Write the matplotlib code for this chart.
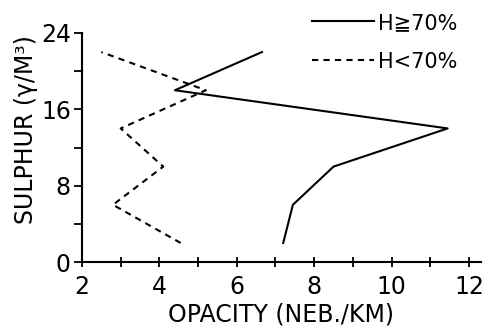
import matplotlib
matplotlib.use("Agg")
import matplotlib.pyplot as plt
from matplotlib.ticker import MultipleLocator

# sulphur levels (y) and opacity values (x)
sulphur = [2, 6, 10, 14, 18, 22]
opacity_high = [7.2, 7.45, 8.5, 11.45, 4.4, 6.65]   # H >= 70%
opacity_low = [4.55, 2.8, 4.1, 3.0, 5.2, 2.5]      # H < 70%

x_ticks = [2, 4, 6, 8, 10, 12]
y_ticks = [0, 8, 16, 24]

plt.rcParams['font.family'] = ['DejaVu Sans']

fig = plt.figure(figsize=(4.92, 3.33), dpi=100)
ax = fig.add_axes([0.1667, 0.213, 0.81, 0.688])

ax.plot(opacity_high, sulphur, color='black', lw=1.5, label='H≧70%')
ax.plot(opacity_low, sulphur, color='black', lw=1.5, ls=(0, (3, 2.5)), label='H<70%')

ax.set_xlim(2, 12.3)
ax.set_ylim(0, 24)
ax.set_xticks(x_ticks)
ax.set_yticks(y_ticks)
ax.xaxis.set_minor_locator(MultipleLocator(1))
ax.yaxis.set_minor_locator(MultipleLocator(4))

for s in ['top', 'right']:
    ax.spines[s].set_visible(False)
for s in ['left', 'bottom']:
    ax.spines[s].set_linewidth(1.5)

ax.tick_params(axis='x', which='both', direction='inout', length=7, width=1.3, labelsize=17, pad=6)
ax.tick_params(axis='y', which='both', direction='out', length=6, width=1.3, labelsize=17, pad=2)

ax.set_xlabel('OPACITY (NEB./KM)', fontsize=17, labelpad=2)
ax.set_ylabel('SULPHUR (γ/M³)', fontsize=17)
ax.yaxis.set_label_coords(-0.11, 0.58)

ax.legend(loc='upper right', bbox_to_anchor=(0.99, 1.17), frameon=False, fontsize=15,
          handlelength=3.0, handletextpad=0.2, labelspacing=0.9)

fig.savefig('out.png', dpi=100)
